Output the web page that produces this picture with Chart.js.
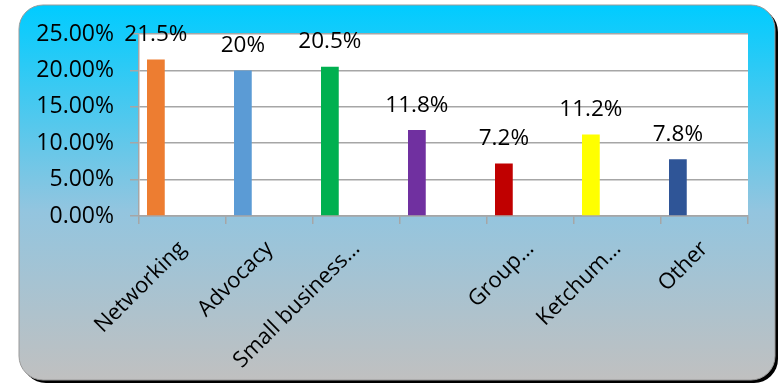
<!DOCTYPE html>
<html>
<head>
<meta charset="utf-8">
<script src="https://cdn.jsdelivr.net/npm/chart.js@4"></script>
<style>
    html, body { margin: 0; padding: 0; background: #fff; }
    #wrap { width: 780px; height: 383px; }
</style>
</head>
<body>
<div id="wrap"><canvas id="surveyChart" width="780" height="383"></canvas></div>
<script>
    // Данные опроса (в процентах)
    const categories = ['Networking', 'Advocacy', 'Small business…', '', 'Group…', 'Ketchum…', 'Other'];
    const shares = [21.5, 20, 20.5, 11.8, 7.2, 11.2, 7.8];
    const barColors = ['#ED7D31', '#5B9BD5', '#00B050', '#7030A0', '#C00000', '#FFFF00', '#2F5597'];

    const FONT = '"Open Sans", "DejaVu Sans", sans-serif';

    // Фон: скруглённая рамка с градиентом и тенью
    const frameBg = {
        id: 'frameBg',
        beforeDraw(chart) {
            const ctx = chart.ctx;
            const x = 19, y = 5, w = 756, h = 375, r = 24;
            ctx.save();
            ctx.fillStyle = '#000';
            ctx.beginPath();
            ctx.roundRect(x + 3, y + 3, w, h, r);
            ctx.fill();
            const g = ctx.createLinearGradient(0, y, 0, y + h);
            g.addColorStop(0, '#00CCFF');
            g.addColorStop(0.55, '#93C5DF');
            g.addColorStop(1, '#C0C0C0');
            ctx.fillStyle = g;
            ctx.beginPath();
            ctx.roundRect(x, y, w, h, r);
            ctx.fill();
            ctx.strokeStyle = '#9A9A9A';
            ctx.lineWidth = 1;
            ctx.stroke();
            // белая область графика
            const a = chart.chartArea;
            ctx.fillStyle = '#fff';
            ctx.fillRect(a.left, a.top, a.right - a.left, a.bottom - a.top);
            ctx.restore();
        }
    };

    // Подписи значений над столбиками
    const valueLabels = {
        id: 'valueLabels',
        afterDatasetsDraw(chart) {
            const ctx = chart.ctx;
            const meta = chart.getDatasetMeta(0);
            ctx.save();
            ctx.font = '22.5px ' + FONT;
            ctx.fillStyle = '#000';
            ctx.textAlign = 'center';
            ctx.textBaseline = 'middle';
            meta.data.forEach((bar, i) => {
                ctx.fillText(shares[i] + '%', bar.x, bar.y - 25);
            });
            ctx.restore();
        }
    };

    // пустые серии нужны, чтобы столбик стоял в левой части категории
    const spacer = () => ({ data: categories.map(() => null), backgroundColor: 'rgba(0,0,0,0)' });

    new Chart(document.getElementById('surveyChart'), {
        type: 'bar',
        data: {
            labels: categories,
            datasets: [
                { data: shares, backgroundColor: barColors },
                spacer(), spacer(), spacer()
            ]
        },
        options: {
            responsive: false,
            animation: false,
            categoryPercentage: 0.816,
            barPercentage: 1,
            layout: { padding: { left: 20, right: 32, top: 34, bottom: 10 } },
            plugins: {
                legend: { display: false },
                tooltip: { enabled: false }
            },
            scales: {
                x: {
                    grid: {
                        offset: true,
                        drawOnChartArea: false,
                        drawTicks: true,
                        tickLength: 8,
                        color: '#A6A6A6',
                        lineWidth: 1.5
                    },
                    border: { color: '#A6A6A6', width: 1.5 },
                    ticks: {
                        color: '#000',
                        font: { family: FONT, size: 22 },
                        minRotation: 45,
                        maxRotation: 45,
                        autoSkip: false,
                        padding: 12
                    },
                    afterFit(axis) { axis.height = 383 - 216 - 10; }
                },
                y: {
                    min: 0,
                    max: 25,
                    grid: {
                        color: '#A6A6A6',
                        lineWidth: 1.5,
                        tickLength: 9
                    },
                    border: { color: '#A6A6A6', width: 1.5 },
                    ticks: {
                        stepSize: 5,
                        color: '#000',
                        font: { family: FONT, size: 23 },
                        padding: 16,
                        callback: v => v.toFixed(2) + '%'
                    },
                    afterFit(axis) { axis.width = 119; }
                }
            }
        },
        plugins: [frameBg, valueLabels]
    });
</script>
</body>
</html>
